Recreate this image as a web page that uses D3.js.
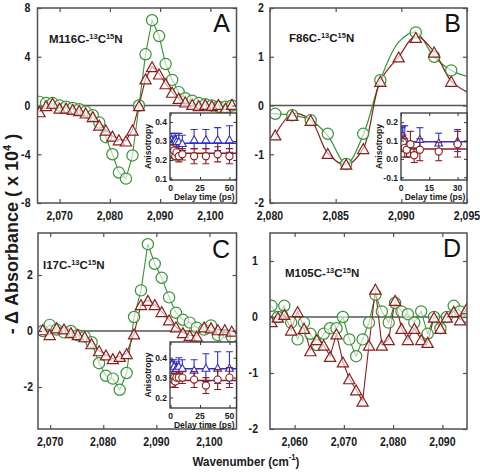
<!DOCTYPE html>
<html><head><meta charset="utf-8">
<script src="https://cdn.jsdelivr.net/npm/d3@7"></script>
<style>body{margin:0;background:#fff}svg{display:block}</style>
</head><body>
<script>
// ================= DATA =================
// Panel A : M116C
const waveA  = [2066.0,2067.3,2068.6,2070.0,2071.3,2072.6,2073.9,2075.2,2076.6,2077.9,2079.2,2080.5,2081.8,2083.2,2084.5,2085.8,2087.1,2088.4,2089.8,2091.1,2092.4,2093.7,2095.0,2096.4,2097.7,2099.0,2100.3,2101.6,2103.0,2104.3];
const greenA = [0.3,0.2,0.2,0.0,-0.1,-0.2,-0.3,-0.5,-0.8,-1.4,-2.6,-4.0,-5.5,-6.0,-4.1,0.0,4.2,7.0,5.7,3.4,2.1,1.1,0.6,0.4,0.2,0.1,0.0,-0.1,-0.1,0.0];
const redA   = [-0.5,0.0,0.2,-0.2,-0.2,-0.3,-0.4,-0.6,-0.9,-1.6,-2.0,-2.5,-2.8,-2.9,-2.0,0.0,2.2,3.2,2.6,1.8,1.1,0.6,0.3,0.1,0.0,0.1,0.0,0.1,-0.2,0.1];

// Panel B : F86C
const waveB  = [2080.4,2081.7,2083.1,2084.4,2085.8,2087.1,2088.4,2089.8,2091.1,2092.5,2093.8];
const greenB = [-0.17,-0.2,-0.3,-0.58,-1.2,-0.58,0.52,null,1.5,1.0,0.72];
const redB   = [-0.6,-0.2,-0.3,-0.98,-1.2,-0.88,0.5,1.0,1.4,1.1,0.5];
const fitWaveGreenB = [2080.0,2080.4,2081.7,2083.1,2084.4,2085.8,2087.1,2088.4,2089.8,2091.1,2092.5,2093.8,2095.0];
const fitGreenB     = [-0.17,-0.17,-0.2,-0.3,-0.62,-1.2,-0.6,0.52,1.3,1.5,1.0,0.72,0.6];
const fitWaveRedB   = [2080.4,2081.7,2083.1,2084.4,2085.8,2087.1,2088.4,2089.8,2091.1,2092.5,2093.8,2095.0];
const fitRedB       = [-0.6,-0.17,-0.3,-0.98,-1.22,-0.88,0.5,1.0,1.42,1.1,0.5,0.28];

// Panel C : I17C
const waveC  = [2068.6,2069.9,2071.2,2072.6,2073.9,2075.2,2076.5,2077.8,2079.2,2080.5,2081.8,2083.1,2084.4,2085.8,2087.1,2088.4,2089.7,2091.0,2092.4,2093.7,2095.0,2096.3,2097.6,2099.0,2100.3,2101.6,2102.9,2104.2];
const greenC = [0.0,0.22,0.05,-0.05,0.0,-0.15,-0.2,-0.4,-1.15,-1.6,-1.7,-2.1,-1.5,0.5,1.45,3.1,2.4,1.9,1.2,0.65,0.4,0.3,0.12,0.05,0.2,-0.15,-0.25,-0.2];
const redC   = [0.05,-0.12,0.12,0.08,-0.05,-0.12,-0.2,-0.45,-0.7,-0.85,-0.98,-0.9,-0.8,-0.1,0.95,1.1,0.95,0.7,0.4,0.15,-0.05,-0.15,-0.18,0.15,0.12,0.05,0.05,0.0];

// Panel D : M105C
const waveD  = [2055.3,2056.6,2057.9,2059.3,2060.6,2061.9,2063.2,2064.5,2065.9,2067.2,2068.5,2069.8,2071.1,2072.5,2073.8,2075.1,2076.4,2077.7,2079.1,2080.4,2081.7,2083.0,2084.3,2085.7,2087.0,2088.3,2089.6,2090.9,2092.3,2093.6,2094.9];
const greenD = [0.2,0.0,0.2,-0.1,-0.4,-0.1,-0.3,-0.5,-0.3,-0.2,-0.2,0.0,-0.4,-0.7,-0.4,-0.1,0.4,0.1,-0.1,0.25,0.1,0.05,-0.1,0.1,-0.3,0.0,-0.2,0.0,0.2,0.1,0.0];
const redD   = [-0.08,0.0,0.05,-0.23,0.1,-0.2,-0.6,-0.4,-0.5,-0.7,-0.3,-0.8,-1.1,-1.3,-1.5,-0.5,0.5,-0.5,-0.4,0.3,-0.2,-0.4,-0.2,-0.4,-0.45,0.0,-0.2,0.0,0.1,-0.05,0.15];

// Insets (anisotropy vs delay time)
const timeA      = [0.5,1,2,3,4,5,7,10,20,30,40,50];
const blueA      = [0.29,0.31,0.30,0.28,0.31,0.30,0.30,0.29,0.31,0.31,0.31,0.31];
const blueErrA   = [0.03,0.03,0.02,0.03,0.03,0.03,0.04,0.04,0.05,0.05,0.06,0.07];
const redInA     = [0.26,0.24,0.23,0.25,0.22,0.24,0.22,0.23,0.22,0.22,0.23,0.22];
const redErrA    = [0.02,0.02,0.02,0.02,0.02,0.02,0.03,0.03,0.04,0.04,0.04,0.04];
const meanA      = [0.288, 0.235];   // [blue, red]

const timeBlueB  = [0.5,1,2,10,20,30];
const blueB      = [0.12,0.13,0.11,0.11,0.09,0.10];
const blueErrB   = [0.05,0.05,0.07,0.06,0.05,0.06];
const timeRedB   = [0.5,1,2,3,5,7,10,20,30];
const redInB     = [0.08,0.09,0.06,0.05,0.08,0.02,0.05,0.04,0.08];
const redErrB    = [0.04,0.04,0.05,0.04,0.07,0.04,0.06,0.05,0.07];
const meanB      = [0.093, 0.054];

const timeC      = [0.5,1,2,3,4,5,7,10,20,30,40,50];
const blueC      = [0.36,0.37,0.35,0.36,0.34,0.35,0.36,0.35,0.34,0.35,0.35,0.35];
const blueErrC   = [0.02,0.02,0.02,0.03,0.03,0.03,0.04,0.04,0.05,0.07,0.08,0.08];
const redInC     = [0.28,0.27,0.29,0.30,0.28,0.30,0.30,0.30,0.29,0.26,0.29,0.30];
const redErrC    = [0.02,0.02,0.02,0.02,0.03,0.03,0.03,0.03,0.04,0.04,0.05,0.05];
const meanC      = [0.345, 0.285];

// Tick values / labels
const xTicksA = [2070,2080,2090,2100];
const xTicksB = [2080,2085,2090,2095];
const xTicksC = [2070,2080,2090,2100];
const xTicksD = [2060,2070,2080,2090];
const yTicksA = [-8,-4,0,4,8];
const yTicksB = [-2,-1,0,1,2];
const yTicksC = [-2,0,2];
const yTicksD = [-2,-1,0,1];
const insetYTicksA = ["0.1","0.2","0.3","0.4"];
const insetYTicksB = ["-0.1","0.0","0.1","0.2"];
const insetYTicksC = ["0.2","0.3","0.4"];
const insetXTicksAC = [0,25,50];
const insetXTicksB  = [0,15,30];

const names = {
  A: [["M116C-",0],["13",1],["C",0],["15",1],["N",0]],
  B: [["F86C-",0],["13",1],["C",0],["15",1],["N",0]],
  C: [["I17C-",0],["13",1],["C",0],["15",1],["N",0]],
  D: [["M105C-",0],["13",1],["C",0],["15",1],["N",0]]
};
const yTitle = "- Δ Absorbance ( x 10";
const xTitle = "Wavenumber (cm";

// ================= STYLE =================
const FONT = "'Liberation Sans', Arial, Helvetica, sans-serif";
const GREEN = "#379337", RED = "#8c1d1d", BLUE = "#3030c8", AXIS = "#505050";

const svg = d3.select("body").append("svg").attr("width",480).attr("height",472);

function tri(s){ return `M0,${-s}L${s},${s*0.78}L${-s},${s*0.78}Z`; }
function fmtNum(v){ return String(v); }

function txt(parent, x, y, str, o){
  o = o || {};
  return parent.append("text")
    .attr("transform", `translate(${x},${y})${o.rot?` rotate(${o.rot})`:""} scale(${o.sx||1},1)`)
    .attr("text-anchor", o.anchor || "start")
    .attr("font-family", FONT)
    .attr("font-weight", o.weight || "bold")
    .attr("font-size", o.size || 12)
    .attr("fill", o.fill || "#1a1a1a")
    .text(str);
}

function drawPanel(p){
  const x = d3.scaleLinear().domain(p.xDomain).range([p.left, p.right]);
  const y = d3.scaleLinear().domain(p.yDomain).range([p.bottom, p.top]);
  const g = svg.append("g");
  svg.append("clipPath").attr("id","clip"+p.id).append("rect")
    .attr("x",p.left).attr("y",p.top).attr("width",p.right-p.left).attr("height",p.bottom-p.top);

  // zero line
  g.append("line").attr("x1",p.left).attr("x2",p.right).attr("y1",y(0)).attr("y2",y(0))
    .attr("stroke","#555").attr("stroke-width",1.5);

  const dg = g.append("g").attr("clip-path",`url(#clip${p.id})`);
  const line = d3.line().defined(d=>d[1]!=null).x(d=>x(d[0])).y(d=>y(d[1]));
  const gPts = p.wave.map((w,i)=>[w,p.green[i]]);
  const rPts = p.wave.map((w,i)=>[w,p.red[i]]);
  if (p.fitGreen){
    const sm = d3.line().curve(d3.curveCatmullRom.alpha(0.5)).x(d=>x(d[0])).y(d=>y(d[1]));
    dg.append("path").attr("d", sm(p.fitGreenWave.map((w,i)=>[w,p.fitGreen[i]])))
      .attr("fill","none").attr("stroke",GREEN).attr("stroke-width",1.2);
    dg.append("path").attr("d", sm(p.fitRedWave.map((w,i)=>[w,p.fitRed[i]])))
      .attr("fill","none").attr("stroke",RED).attr("stroke-width",1.2);
  } else {
    dg.append("path").attr("d", line(gPts)).attr("fill","none").attr("stroke",GREEN).attr("stroke-width",1.1);
    dg.append("path").attr("d", line(rPts)).attr("fill","none").attr("stroke",RED).attr("stroke-width",1.1);
  }
  dg.selectAll("circle.g").data(gPts.filter(d=>d[1]!=null)).enter().append("circle")
    .attr("cx",d=>x(d[0])).attr("cy",d=>y(d[1])).attr("r",5.6)
    .attr("fill","#fff").attr("fill-opacity",0.6).attr("stroke",GREEN).attr("stroke-width",1.2);
  dg.selectAll("path.t").data(rPts).enter().append("path")
    .attr("d",tri(5.6)).attr("transform",d=>`translate(${x(d[0])},${y(d[1])+0.8})`)
    .attr("fill","#fff").attr("fill-opacity",0.6).attr("stroke",RED).attr("stroke-width",1.2);

  // axes: inward ticks on all sides
  const tk = 4;
  const mk = (axis, tx, ty) => g.append("g").attr("transform",`translate(${tx},${ty})`)
      .call(axis).call(s=>{s.select(".domain").remove(); s.selectAll("text").remove(); s.selectAll("line").attr("stroke",AXIS).attr("stroke-width",1.2);});
  mk(d3.axisBottom(x).tickValues(p.xTicks).tickSizeInner(-tk).tickSizeOuter(0), 0, p.bottom);
  mk(d3.axisTop(x).tickValues(p.xTicks).tickSizeInner(-tk).tickSizeOuter(0), 0, p.top);
  mk(d3.axisLeft(y).tickValues(p.yTicks).tickSizeInner(-tk).tickSizeOuter(0), p.left, 0);
  mk(d3.axisRight(y).tickValues(p.yTicks).tickSizeInner(-tk).tickSizeOuter(0), p.right, 0);
  g.append("rect").attr("x",p.left).attr("y",p.top).attr("width",p.right-p.left).attr("height",p.bottom-p.top)
    .attr("fill","none").attr("stroke",AXIS).attr("stroke-width",1.5);

  // tick labels
  const f = d3.format(",");
  p.xTicks.forEach(v=>txt(g, x(v), p.bottom+17, f(v), {anchor:"middle", size:12, sx:0.88}));
  p.yTicks.forEach(v=>txt(g, p.left-p.yPad, y(v)+4.3, fmtNum(v), {anchor:"end", size:12, sx:0.88}));

  // panel name with superscripts
  const t = g.append("text").attr("x",p.nameX).attr("y",p.nameY)
    .attr("font-family",FONT).attr("font-weight","bold").attr("font-size",11.5).attr("fill","#1a1a1a");
  let sup = false;
  names[p.id].forEach(([s,isSup])=>{
    const ts = t.append("tspan").text(s);
    if (isSup && !sup){ ts.attr("dy",-4).attr("font-size",7.5); sup=true; }
    else if (isSup){ ts.attr("font-size",7.5); }
    else if (sup){ ts.attr("dy",4); sup=false; }
  });
  // panel letter
  txt(g, p.letterX, p.letterY, p.id, {anchor:"end", size:25, weight:"normal", fill:"#111"});
  return {x,y};
}

function drawInset(p, ins){
  const x = d3.scaleLinear().domain(ins.xDomain).range([ins.left, p.right]);
  const y = d3.scaleLinear().domain(ins.yDomain).range([ins.bottom, ins.top]);
  const g = svg.append("g");
  g.append("rect").attr("x",ins.left).attr("y",ins.top).attr("width",p.right-ins.left).attr("height",ins.bottom-ins.top)
    .attr("fill","#fff");
  svg.append("clipPath").attr("id","iclip"+p.id).append("rect")
    .attr("x",ins.left).attr("y",ins.top).attr("width",p.right-ins.left).attr("height",ins.bottom-ins.top);
  const dg = g.append("g").attr("clip-path",`url(#iclip${p.id})`);
  // mean lines
  dg.append("line").attr("x1",ins.left).attr("x2",p.right).attr("y1",y(ins.mean[0])).attr("y2",y(ins.mean[0]))
    .attr("stroke",BLUE).attr("stroke-width",1.5);
  dg.append("line").attr("x1",ins.left).attr("x2",p.right).attr("y1",y(ins.mean[1])).attr("y2",y(ins.mean[1]))
    .attr("stroke",RED).attr("stroke-width",1.5);

  function series(times, vals, errs, color, marker){
    const pts = times.map((t,i)=>({t, v:vals[i], e:errs[i]}));
    const eg = dg.append("g").attr("stroke",color).attr("stroke-width",1.1).attr("fill","none");
    pts.forEach(d=>{
      const cx = x(d.t), y1 = y(d.v+d.e), y2 = y(d.v-d.e);
      eg.append("line").attr("x1",cx).attr("x2",cx).attr("y1",y1).attr("y2",y2);
      eg.append("line").attr("x1",cx-3.5).attr("x2",cx+3.5).attr("y1",y1).attr("y2",y1);
      eg.append("line").attr("x1",cx-3.5).attr("x2",cx+3.5).attr("y1",y2).attr("y2",y2);
    });
    pts.forEach(d=>{
      if (marker==="c") dg.append("circle").attr("cx",x(d.t)).attr("cy",y(d.v)).attr("r",3.6)
        .attr("fill","#fff").attr("stroke",color).attr("stroke-width",1.1);
      else dg.append("path").attr("d",tri(3.9)).attr("transform",`translate(${x(d.t)},${y(d.v)+0.6})`)
        .attr("fill","#fff").attr("stroke",color).attr("stroke-width",1.1);
    });
  }
  series(ins.tBlue, ins.blue, ins.blueErr, BLUE, "t");
  series(ins.tRed, ins.red, ins.redErr, RED, "c");

  // frame + inward ticks
  const tk = 3;
  const mk = (axis, tx, ty) => g.append("g").attr("transform",`translate(${tx},${ty})`)
      .call(axis).call(s=>{s.select(".domain").remove(); s.selectAll("text").remove(); s.selectAll("line").attr("stroke","#333").attr("stroke-width",1);});
  const yv = ins.yTicks.map(Number);
  mk(d3.axisBottom(x).tickValues(ins.xTicks).tickSizeInner(-tk).tickSizeOuter(0), 0, ins.bottom);
  mk(d3.axisTop(x).tickValues(ins.xTicks).tickSizeInner(-tk).tickSizeOuter(0), 0, ins.top);
  mk(d3.axisLeft(y).tickValues(yv).tickSizeInner(-tk).tickSizeOuter(0), ins.left, 0);
  mk(d3.axisRight(y).tickValues(yv).tickSizeInner(-tk).tickSizeOuter(0), p.right, 0);
  g.append("rect").attr("x",ins.left).attr("y",ins.top).attr("width",p.right-ins.left).attr("height",ins.bottom-ins.top)
    .attr("fill","none").attr("stroke","#333").attr("stroke-width",1.3);

  ins.xTicks.forEach(v=>txt(g, x(v), ins.bottom+10.5, String(v), {anchor:"middle", size:9.5, sx:0.9}));
  ins.yTicks.forEach(s=>txt(g, ins.left-3, y(+s)+3.3, s, {anchor:"end", size:9.5, sx:0.9}));
  txt(g, (ins.left+p.right)/2+1, ins.bottom+19.5, "Delay time (ps)", {anchor:"middle", size:9, sx:0.95});
  txt(g, ins.left-19, (ins.top+ins.bottom)/2, "Anisotropy", {anchor:"middle", size:9, rot:-90, sx:0.95});
}

// ================= LAYOUT =================
const PA = {id:"A", left:37.5, right:236.5, top:8, bottom:203, xDomain:[2065.6,2105.2], yDomain:[-8,8],
  wave:waveA, green:greenA, red:redA, xTicks:xTicksA, yTicks:yTicksA, yPad:7,
  nameX:49, nameY:43, letterX:230, letterY:32};
const PB = {id:"B", left:270, right:467, top:8, bottom:203, xDomain:[2080,2095], yDomain:[-2,2],
  wave:waveB, green:greenB, red:redB, xTicks:xTicksB, yTicks:yTicksB, yPad:6,
  fitGreenWave:fitWaveGreenB, fitGreen:fitGreenB, fitRedWave:fitWaveRedB, fitRed:fitRedB,
  nameX:289, nameY:42, letterX:461, letterY:32};
const PC = {id:"C", left:38, right:236.5, top:233, bottom:429, xDomain:[2067.7,2105.1], yDomain:[-3.5,3.5],
  wave:waveC, green:greenC, red:redC, xTicks:xTicksC, yTicks:yTicksC, yPad:5,
  nameX:43, nameY:269, letterX:230, letterY:258};
const PD = {id:"D", left:270, right:467, top:233, bottom:429, xDomain:[2055,2095], yDomain:[-2,1.5],
  wave:waveD, green:greenD, red:redD, xTicks:xTicksD, yTicks:yTicksD, yPad:12,
  nameX:285, nameY:277, letterX:461, letterY:257};

[PA,PB,PC,PD].forEach(drawPanel);

drawInset(PA, {left:170, top:113, bottom:180, xDomain:[-0.5,56], yDomain:[0.095,0.447],
  tBlue:timeA, blue:blueA, blueErr:blueErrA, tRed:timeA, red:redInA, redErr:redErrA, mean:meanA,
  xTicks:insetXTicksAC, yTicks:insetYTicksA});
drawInset(PB, {left:401, top:113, bottom:180, xDomain:[0,35], yDomain:[-0.115,0.25],
  tBlue:timeBlueB, blue:blueB, blueErr:blueErrB, tRed:timeRedB, red:redInB, redErr:redErrB, mean:meanB,
  xTicks:insetXTicksB, yTicks:insetYTicksB});
drawInset(PC, {left:170, top:342, bottom:408, xDomain:[-0.5,56], yDomain:[0.147,0.479],
  tBlue:timeC, blue:blueC, blueErr:blueErrC, tRed:timeC, red:redInC, redErr:redErrC, mean:meanC,
  xTicks:insetXTicksAC, yTicks:insetYTicksC});

// axis titles
const yt = svg.append("text").attr("transform","translate(18,234) rotate(-90)")
  .attr("text-anchor","middle").attr("font-family",FONT).attr("font-weight","bold").attr("font-size",18).attr("fill","#1a1a1a");
yt.append("tspan").text(yTitle);
yt.append("tspan").text("4").attr("dy",-7).attr("font-size",11);
yt.append("tspan").text(" )").attr("dy",7);

const xt = svg.append("text").attr("transform","translate(246,466) scale(0.86,1)")
  .attr("text-anchor","middle").attr("font-family",FONT).attr("font-weight","bold").attr("font-size",13.5).attr("fill","#1a1a1a");
xt.append("tspan").text(xTitle);
xt.append("tspan").text("-1").attr("dy",-6).attr("font-size",9);
xt.append("tspan").text(")").attr("dy",6);
</script>
</body></html>
